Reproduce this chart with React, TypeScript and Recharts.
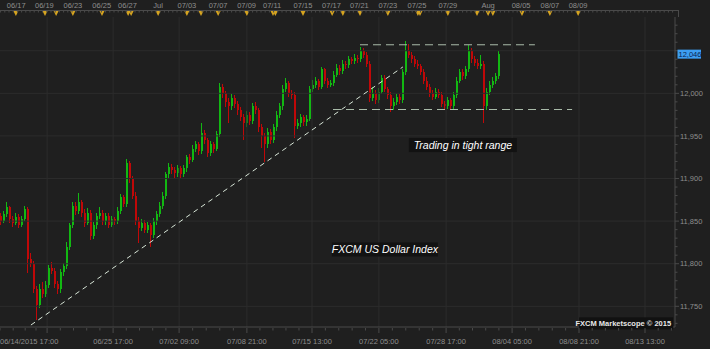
import React from 'react';
import { ComposedChart, Bar, XAxis, YAxis, ReferenceLine, ReferenceDot } from 'recharts';

// 4h candles, [open, high, low, close]
const ohlc: [number, number, number, number][] = [
  [11856, 11860, 11845, 11850], [11850, 11862, 11848, 11858], [11858, 11872, 11855, 11866], [11866, 11868, 11848, 11852],
  [11852, 11856, 11843, 11848], [11848, 11860, 11845, 11855], [11855, 11858, 11842, 11846], [11846, 11856, 11843, 11852],
  [11852, 11868, 11850, 11864], [11864, 11866, 11789, 11805], [11805, 11812, 11796, 11800], [11800, 11803, 11766, 11770],
  [11770, 11774, 11734, 11752], [11752, 11776, 11748, 11770], [11770, 11778, 11760, 11765], [11765, 11780, 11761, 11775],
  [11775, 11799, 11772, 11795], [11795, 11802, 11788, 11792], [11792, 11795, 11772, 11776], [11776, 11780, 11764, 11770],
  [11770, 11794, 11766, 11790], [11790, 11801, 11786, 11797], [11797, 11825, 11794, 11820], [11820, 11848, 11816, 11845],
  [11845, 11872, 11842, 11868], [11868, 11873, 11857, 11862], [11862, 11883, 11858, 11872], [11872, 11875, 11855, 11860],
  [11860, 11864, 11843, 11848], [11848, 11865, 11845, 11860], [11860, 11863, 11828, 11832], [11832, 11849, 11829, 11845],
  [11845, 11860, 11841, 11856], [11856, 11866, 11852, 11860], [11860, 11863, 11846, 11850], [11850, 11860, 11846, 11856],
  [11856, 11859, 11842, 11846], [11846, 11856, 11843, 11852], [11852, 11855, 11846, 11850], [11850, 11866, 11847, 11862],
  [11862, 11882, 11858, 11878], [11878, 11881, 11866, 11870], [11870, 11923, 11867, 11918], [11918, 11921, 11895, 11900],
  [11900, 11903, 11876, 11880], [11880, 11884, 11846, 11850], [11850, 11855, 11824, 11842], [11842, 11852, 11838, 11848],
  [11848, 11851, 11836, 11840], [11840, 11849, 11836, 11845], [11845, 11848, 11820, 11834], [11834, 11854, 11830, 11850],
  [11850, 11862, 11846, 11858], [11858, 11872, 11855, 11868], [11868, 11884, 11864, 11880], [11880, 11908, 11876, 11905],
  [11905, 11918, 11901, 11914], [11914, 11917, 11905, 11910], [11910, 11913, 11900, 11906], [11906, 11916, 11902, 11912],
  [11912, 11915, 11900, 11905], [11905, 11916, 11902, 11912], [11912, 11928, 11908, 11925], [11925, 11929, 11917, 11922],
  [11922, 11939, 11919, 11935], [11935, 11944, 11931, 11940], [11940, 11943, 11928, 11932], [11932, 11965, 11929, 11953],
  [11953, 11957, 11940, 11945], [11945, 11948, 11925, 11930], [11930, 11944, 11927, 11940], [11940, 11943, 11930, 11935],
  [11935, 11956, 11932, 11952], [11952, 12012, 11949, 12008], [12008, 12011, 11995, 12000], [12000, 12003, 11984, 11990],
  [11990, 11994, 11965, 11985], [11985, 11999, 11981, 11995], [11995, 11998, 11983, 11988], [11988, 11991, 11975, 11980],
  [11980, 11984, 11968, 11972], [11972, 11976, 11945, 11965], [11965, 11979, 11961, 11975], [11975, 11978, 11963, 11968],
  [11968, 11989, 11964, 11985], [11985, 11990, 11976, 11980], [11980, 11983, 11955, 11960], [11960, 11964, 11936, 11950],
  [11950, 11953, 11919, 11940], [11940, 11959, 11936, 11955], [11955, 11958, 11941, 11945], [11945, 11964, 11942, 11960],
  [11960, 11979, 11956, 11975], [11975, 11989, 11971, 11985], [11985, 12010, 11981, 12005], [12005, 12018, 12001, 12012],
  [12012, 12015, 11996, 12000], [12000, 12004, 11993, 11998], [11998, 12001, 11948, 11962], [11962, 11970, 11958, 11965],
  [11965, 11976, 11961, 11972], [11972, 11975, 11962, 11966], [11966, 11974, 11962, 11970], [11970, 12009, 11967, 12005],
  [12005, 12016, 12001, 12010], [12010, 12019, 12006, 12014], [12014, 12017, 12004, 12008], [12008, 12031, 12005, 12028],
  [12028, 12030, 12011, 12015], [12015, 12018, 12006, 12010], [12010, 12016, 12007, 12012], [12012, 12026, 12009, 12022],
  [12022, 12034, 12019, 12030], [12030, 12033, 12022, 12026], [12026, 12039, 12023, 12035], [12035, 12038, 12029, 12033],
  [12033, 12044, 12030, 12040], [12040, 12043, 12034, 12038], [12038, 12046, 12035, 12042], [12042, 12045, 12036, 12040],
  [12040, 12054, 12037, 12050], [12050, 12053, 12041, 12045], [12045, 12048, 12031, 12035], [12035, 12038, 11990, 11995],
  [11995, 12008, 11991, 12000], [12000, 12004, 11988, 11992], [11992, 12006, 11989, 12002], [12002, 12022, 11999, 12018],
  [12018, 12021, 12001, 12005], [12005, 12008, 11993, 11998], [11998, 12001, 11978, 11985], [11985, 11994, 11981, 11990],
  [11990, 11999, 11986, 11996], [11996, 11999, 11987, 11992], [11992, 12029, 11989, 12025], [12025, 12062, 12021, 12050],
  [12050, 12058, 12041, 12045], [12045, 12049, 12036, 12040], [12040, 12044, 12031, 12035], [12035, 12039, 12028, 12032],
  [12032, 12035, 12021, 12025], [12025, 12028, 12011, 12015], [12015, 12019, 12004, 12008], [12008, 12011, 11996, 12000],
  [12000, 12004, 11992, 11996], [11996, 12006, 11993, 12002], [12002, 12005, 11994, 11998], [11998, 12001, 11984, 11988],
  [11988, 11991, 11981, 11985], [11985, 11996, 11982, 11992], [11992, 11995, 11980, 11985], [11985, 12002, 11982, 11998],
  [11998, 12019, 11995, 12015], [12015, 12029, 12012, 12025], [12025, 12028, 12016, 12020], [12020, 12032, 12017, 12028],
  [12028, 12057, 12025, 12050], [12050, 12053, 12036, 12040], [12040, 12044, 12032, 12036], [12036, 12040, 12028, 12032],
  [12032, 12045, 12029, 12034], [12034, 12038, 11965, 11985], [11985, 12006, 11981, 12002], [12002, 12014, 11998, 12010],
  [12010, 12019, 12006, 12015], [12015, 12024, 12011, 12020], [12020, 12050, 12017, 12046],
];

const firstLabel = '06/14/2015 17:00';
const bottomLabels: [number, string][] = [
  [37.2, '06/25 17:00'], [59.2, '07/02 09:00'], [81.8, '07/08 21:00'], [103.5, '07/15 13:00'], [125.8, '07/22 05:00'],
  [148.2, '07/28 17:00'], [170.2, '08/04 05:00'], [192.5, '08/08 21:00'], [214.5, '08/13 13:00'],
];
const gridX = [15.2, 37.2, 59.2, 81.8, 103.5, 125.8, 148.2, 170.2, 192.5, 214.5];

const topLabels: [number, string][] = [
  [4.9, '06/17'], [14.3, '06/19'], [23.8, '06/23'], [33.4, '06/25'], [42, '06/27'], [52.2, 'Jul'], [61.8, '07/03'],
  [72.2, '07/07'], [81.7, '07/09'], [90.2, '07/11'], [100.5, '07/15'], [110, '07/17'], [119.3, '07/21'], [128.8, '07/23'],
  [138.5, '07/25'], [148.8, '07/29'], [162.2, 'Aug'], [173.2, '08/05'], [182.8, '08/07'], [192.2, '08/09'],
];
const topMarks = [
  4.8, 14.5, 18.2, 23.8, 33.5, 42.2, 43.2, 52.2, 61.8, 66.5, 72.2, 81.8, 90.5, 91.3, 100.5, 110.2, 113.8, 119.5,
  128.8, 138.8, 139.5, 148.8, 158.5, 162.2, 163.8, 173.5, 182.8, 192.2,
];

const priceLabels = [11750, 11800, 11850, 11900, 11950, 12000];
const lastPrice = 12046;
const rangeHigh = 12057;
const rangeLow = 11981;
const trendStart = { x: 9.8, y: 11728 };
const trendEnd = { x: 133.8, y: 12031 };

const data = ohlc.map(([o, h, l, c], i) => ({ i, o, h, l, c }));

const GREEN = '#12b812';
const RED = '#c00808';
const AXIS = '#4a4a4a';
const TXT = '#8e8e8e';
const GRID = '#2c2c2c';
const FONT = '"Liberation Sans", Arial, sans-serif';

const fmt = (v: number) => v.toLocaleString('en-US');
const near = (a: number, b: number) => Math.abs(a - b) < 0.001;

const Candle = (props: any) => {
  const { x, y, width, height, payload } = props;
  if (!payload) return null;
  const { o, h, l, c } = payload;
  const color = c >= o ? GREEN : RED;
  const top = Math.min(y, y + height);
  const hh = Math.abs(height);
  const k = hh / (h - l || 1);
  const yo = top + (h - o) * k;
  const yc = top + (h - c) * k;
  const cx = Math.round(x + width / 2) - 0.5;
  return (
    <g shapeRendering="crispEdges">
      <line x1={cx} x2={cx} y1={top} y2={top + hh} stroke={color} strokeWidth={1} />
      <rect x={cx - 1} y={Math.min(yo, yc)} width={2} height={Math.max(1, Math.abs(yo - yc))} fill={color} />
    </g>
  );
};

const uniq = (a: number[]) => Array.from(new Set(a.map((v) => +v.toFixed(2))));

// top ruler ticks
const topMinor = Array.from({ length: 162 }, (_, k) => +(k * 1.4 - 0.3).toFixed(2));
const topSet = uniq([...topLabels.map((t) => t[0]), ...topMarks, ...topMinor]);

// bottom axis ticks
const bottomMinor: number[] = [];
gridX.forEach((g, k) => {
  const next = gridX[k + 1] ?? g + 22;
  for (let s = 1; s < 5; s++) bottomMinor.push(+(g + ((next - g) * s) / 5).toFixed(2));
});
[-0.5, 3.9, 7.9, 11.5].forEach((v) => bottomMinor.push(v));
const bottomSet = uniq([...gridX, ...bottomMinor]);

const allTicks = uniq([...topSet, ...bottomSet]).filter((v) => v >= -0.5 && v <= 224.5);

const TimeTick = ({ x, y, payload, index }: any) => {
  const v = +(+payload.value).toFixed(2);
  const inTop = topSet.some((t) => near(t, v));
  const inBottom = bottomSet.some((t) => near(t, v));
  const tLab = topLabels.find((t) => near(t[0], v));
  const mark = topMarks.some((m) => near(m, v));
  const major = gridX.some((g) => near(g, v));
  const bLab = bottomLabels.find((t) => near(t[0], v));
  return (
    <g>
      {index === 0 && (
        <g>
          <line x1={0} x2={679} y1={10.5} y2={10.5} stroke={AXIS} />
          <line x1={678.5} x2={678.5} y1={10.5} y2={17} stroke={AXIS} />
        </g>
      )}
      {inTop && !mark && <line x1={x} x2={x} y1={10.5} y2={12.5} stroke={AXIS} />}
      {tLab && (
        <text x={x} y={7.5} textAnchor="middle" fill={TXT} fontSize={7.5} fontFamily={FONT}>
          {tLab[1]}
        </text>
      )}
      {mark && <path d={`M${x - 2.5},11 L${x + 2.5},11 L${x},16 Z`} fill="#d6a420" />}
      {inBottom && <line x1={x} x2={x} y1={y + 1} y2={y + (major ? 6 : 3.5)} stroke={AXIS} />}
      {near(v, -0.5) && (
        <text x={0} y={344} textAnchor="start" fill={TXT} fontSize={7.5} fontFamily={FONT}>
          {firstLabel}
        </text>
      )}
      {bLab && (
        <text x={x} y={344} textAnchor="middle" fill={TXT} fontSize={7.5} fontFamily={FONT}>
          {bLab[1]}
        </text>
      )}
    </g>
  );
};

const yTicks = [...Array.from({ length: 36 }, (_, k) => 11730 + k * 10), lastPrice];

const PriceTick = ({ x, y, payload }: any) => {
  const v = payload.value;
  if (v === lastPrice) {
    return (
      <g>
        <rect x={x + 2.5} y={y - 4.5} width={23.5} height={9} fill="#3d9ef2" />
        <text x={x + 3.5} y={y + 2.8} fill="#0b2350" fontSize={7.5} fontFamily={FONT}>
          {fmt(v)}
        </text>
      </g>
    );
  }
  const major = v % 50 === 0;
  return (
    <g>
      <line x1={x} x2={x + (major ? 4 : 2.5)} y1={y} y2={y} stroke={AXIS} />
      {major && priceLabels.includes(v) && (
        <text x={x + 5} y={y + 2.7} fill={TXT} fontSize={7.5} fontFamily={FONT}>
          {fmt(v)}
        </text>
      )}
    </g>
  );
};

const note = (text: string, w: number, size: number) => (p: any) => (
  <g>
    <rect x={p.cx - w / 2} y={p.cy - 7} width={w} height={14} fill="#121212" />
    <text x={p.cx} y={p.cy + 3.7} textAnchor="middle" fill="#ffffff" fontSize={size} fontStyle="italic" fontFamily={FONT}>
      {text}
    </text>
  </g>
);

const stamp = (p: any) => (
  <g>
    <rect x={p.cx - 92} y={p.cy - 6} width={94} height={12} fill="#111111" />
    <text x={p.cx} y={p.cy + 2.8} textAnchor="end" fill="#e8e8e8" fontSize={7.5} fontWeight="bold" fontFamily={FONT}>
      FXCM Marketscope © 2015
    </text>
  </g>
);

const App: React.FC = () => (
  <div style={{ position: 'absolute', left: 0, top: 0, width: 710, height: 349, background: '#1f1f1f', fontFamily: FONT }}>
    <ComposedChart width={710} height={349} data={data} margin={{ top: 17, right: 0, bottom: 0, left: 0 }}>
      <XAxis
        xAxisId="b"
        dataKey="i"
        type="number"
        domain={[-0.5, 224.5]}
        allowDataOverflow
        ticks={allTicks}
        interval={0}
        height={22}
        tickSize={0}
        tickMargin={0}
        axisLine={{ stroke: AXIS }}
        tickLine={false}
        tick={<TimeTick />}
      />
      <YAxis
        orientation="right"
        type="number"
        domain={[11725.7, 12089.6]}
        allowDataOverflow
        ticks={yTicks}
        interval={0}
        width={35}
        tickSize={0}
        tickMargin={0}
        axisLine={{ stroke: AXIS }}
        tickLine={false}
        tick={<PriceTick />}
      />
      {[11750, 11800, 11850, 11900, 11950, 12000, 12050].map((v) => (
        <ReferenceLine key={'h' + v} xAxisId="b" y={v} stroke={GRID} />
      ))}
      {gridX.map((v) => (
        <ReferenceLine key={'v' + v} xAxisId="b" x={v} stroke={GRID} />
      ))}
      <Bar xAxisId="b" dataKey={(d: any) => [d.l, d.h]} barSize={2} shape={<Candle />} isAnimationActive={false} />
      <ReferenceLine xAxisId="b" segment={[trendStart, trendEnd]} stroke="#d8e6d8" strokeDasharray="5 4" />
      <ReferenceLine
        xAxisId="b"
        segment={[{ x: 119.5, y: rangeHigh }, { x: 177.8, y: rangeHigh }]}
        stroke="#a9bba9"
        strokeDasharray="8 5"
      />
      <ReferenceLine
        xAxisId="b"
        segment={[{ x: 110.5, y: rangeLow }, { x: 190.2, y: rangeLow }]}
        stroke="#a9bba9"
        strokeDasharray="8 5"
      />
      <ReferenceDot xAxisId="b" x={153.8} y={11939.3} ifOverflow="visible" shape={note('Trading in tight range', 108, 10.5)} />
      <ReferenceDot xAxisId="b" x={127.8} y={11816.7} ifOverflow="visible" shape={note('FXCM US Dollar Index', 106, 10.5)} />
      <ReferenceDot xAxisId="b" x={223.2} y={11730} ifOverflow="visible" shape={stamp} />
    </ComposedChart>
  </div>
);

export default App;
